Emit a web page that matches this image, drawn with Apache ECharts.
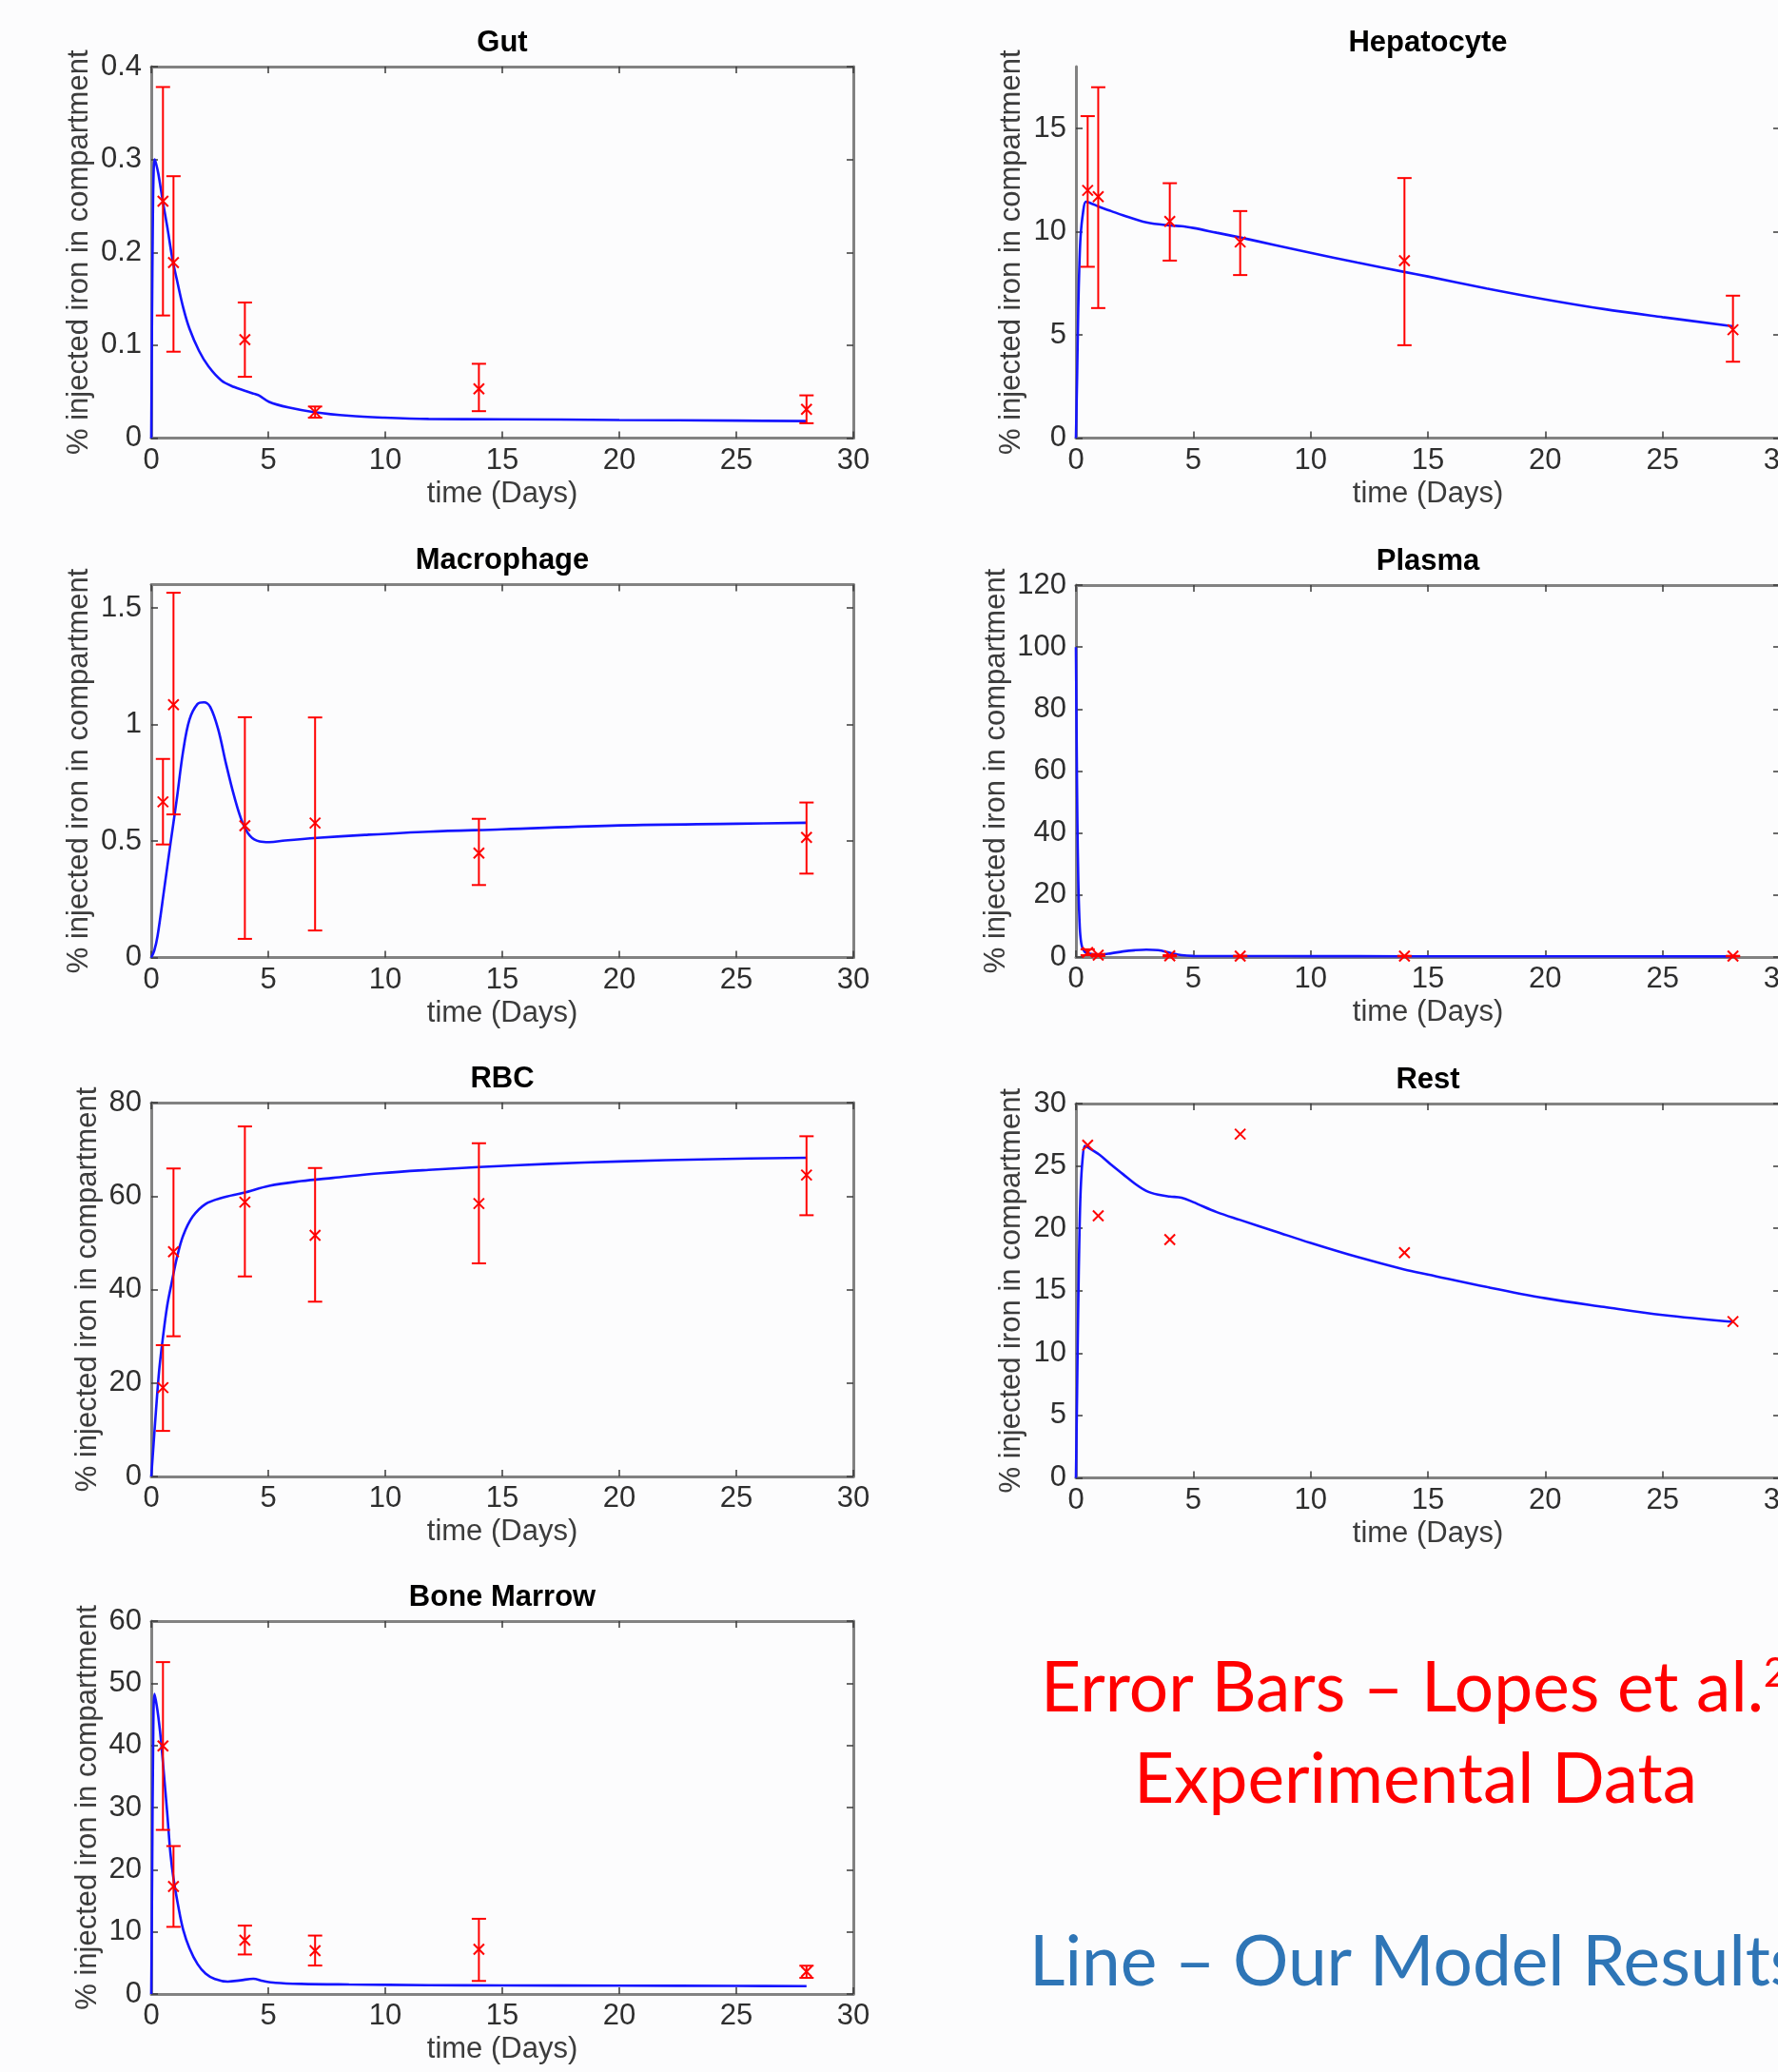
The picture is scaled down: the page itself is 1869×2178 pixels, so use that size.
<!DOCTYPE html>
<html>
<head>
<meta charset="utf-8">
<script src="https://cdn.jsdelivr.net/npm/echarts@6/dist/echarts.min.js"></script>
<style>
html,body{margin:0;padding:0;background:#fcfcfd;}
#c{width:1869px;height:2178px;}
</style>
</head>
<body>
<div id="c"></div>
<script>
// ---------- data ----------
const obsDays = [0.5, 0.95, 4, 7, 14, 28];
const xTicks = [0, 5, 10, 15, 20, 25, 30];

// Gut
const gutYTicks = [0, 0.1, 0.2, 0.3, 0.4];
const gutModelT = [0, 0.03, 0.07, 0.1, 0.14, 0.2, 0.3, 0.48, 0.7, 0.91, 1.09, 1.36, 1.63, 2.04, 2.45, 3.0, 3.54, 4.0, 4.36, 4.6, 5.04, 5.86, 6.95, 8.45, 9.95, 11.85, 15, 20, 25, 28];
const gutModelY = [0, 0.12, 0.24, 0.285, 0.300, 0.296, 0.285, 0.257, 0.225, 0.192, 0.171, 0.141, 0.118, 0.094, 0.077, 0.062, 0.055, 0.051, 0.048, 0.046, 0.039, 0.033, 0.028, 0.024, 0.022, 0.0206, 0.0203, 0.0195, 0.0188, 0.0183];
const gutMean = [0.255, 0.189, 0.106, 0.028, 0.053, 0.031];
const gutLow  = [0.132, 0.093, 0.066, 0.022, 0.029, 0.016];
const gutHigh = [0.378, 0.282, 0.146, 0.034, 0.080, 0.046];

// Hepatocyte
const hepYTicks = [0, 5, 10, 15];
const hepModelT = [0, 0.05, 0.1, 0.15, 0.2, 0.3, 0.42, 0.6, 1, 1.5, 2, 3, 4, 4.5, 5, 6, 7, 8.5, 10, 12, 14, 15, 17.5, 20, 22.5, 25, 28];
const hepModelY = [0, 3.0, 6.3, 8.5, 9.8, 10.9, 11.45, 11.4, 11.2, 11.0, 10.8, 10.45, 10.3, 10.27, 10.18, 9.95, 9.72, 9.35, 8.98, 8.5, 8.05, 7.83, 7.25, 6.72, 6.25, 5.86, 5.42];
const hepMean = [12.0, 11.7, 10.5, 9.5, 8.6, 5.25];
const hepLow  = [8.3, 6.3, 8.6, 7.9, 4.5, 3.7];
const hepHigh = [15.6, 17.0, 12.35, 11.0, 12.6, 6.9];

// Macrophage
const macYTicks = [0, 0.5, 1, 1.5];
const macModelT = [0, 0.13, 0.27, 0.54, 0.82, 1.09, 1.36, 1.63, 1.98, 2.25, 2.52, 2.86, 3.2, 3.54, 3.88, 4.22, 4.63, 5.04, 5.72, 7.08, 9.13, 11.85, 15, 20, 25, 28];
const macModelY = [0, 0.03, 0.093, 0.284, 0.488, 0.679, 0.884, 1.02, 1.088, 1.095, 1.075, 0.979, 0.829, 0.693, 0.584, 0.522, 0.498, 0.495, 0.502, 0.513, 0.526, 0.54, 0.55, 0.567, 0.574, 0.578];
const macMean = [0.668, 1.085, 0.565, 0.577, 0.448, 0.515];
const macLow  = [0.485, 0.614, 0.080, 0.116, 0.311, 0.360];
const macHigh = [0.852, 1.565, 1.031, 1.030, 0.595, 0.665];

// Plasma
const plaYTicks = [0, 20, 40, 60, 80, 100, 120];
const plaModelT = [0, 0.03, 0.06, 0.1, 0.15, 0.2, 0.3, 0.5, 1, 1.5, 2, 2.5, 3, 3.5, 4, 4.5, 5, 7, 10, 14, 20, 28];
const plaModelY = [100, 70, 45, 25, 12, 6, 2.5, 1.2, 0.8, 1.2, 1.8, 2.2, 2.4, 2.2, 1.4, 0.6, 0.35, 0.3, 0.28, 0.25, 0.22, 0.2];
const plaMean = [1.5, 0.6, 0.4, 0.3, 0.3, 0.3];
const plaLow  = [0.6, 0.3, 0.2, 0.2, 0.2, 0.2];
const plaHigh = [2.5, 1.0, 0.6, 0.4, 0.4, 0.4];

// RBC
const rbcYTicks = [0, 20, 40, 60, 80];
const rbcModelT = [0, 0.1, 0.2, 0.34, 0.48, 0.68, 0.89, 1.09, 1.36, 1.77, 2.32, 3.0, 3.95, 5.04, 6.4, 7.77, 9.8, 11.85, 14, 17, 20, 24, 28];
const rbcModelY = [0, 7, 14, 22.8, 29, 36.5, 41.9, 46.7, 51.5, 55.6, 58.3, 59.6, 60.7, 62.2, 63.2, 63.9, 64.9, 65.6, 66.2, 66.9, 67.4, 67.9, 68.2];
const rbcMean = [19.0, 48.1, 58.7, 51.6, 58.4, 64.5];
const rbcLow  = [9.75, 30.0, 42.8, 37.4, 45.6, 55.9];
const rbcHigh = [28.1, 65.9, 74.9, 66.0, 71.3, 72.8];

// Rest
const resYTicks = [0, 5, 10, 15, 20, 25, 30];
const resModelT = [0, 0.05, 0.1, 0.15, 0.2, 0.28, 0.38, 0.5, 1, 1.5, 2, 2.5, 3, 3.5, 4, 4.5, 5, 6, 7, 8.5, 10, 12, 14, 15, 17.5, 20, 22.5, 25, 28];
const resModelY = [0, 7, 14, 19.5, 23, 25.5, 26.6, 26.5, 25.9, 25.1, 24.35, 23.6, 23.0, 22.7, 22.55, 22.45, 22.1, 21.3, 20.67, 19.75, 18.83, 17.7, 16.7, 16.3, 15.3, 14.4, 13.7, 13.05, 12.5];
const resMean = [26.66, 21.0, 19.1, 27.55, 18.05, 12.53];

// Bone Marrow
const bmYTicks = [0, 10, 20, 30, 40, 50, 60];
const bmModelT = [0, 0.04, 0.08, 0.14, 0.27, 0.41, 0.54, 0.68, 0.82, 0.95, 1.16, 1.36, 1.63, 1.98, 2.32, 2.72, 3.27, 3.81, 4.36, 4.77, 5.31, 6.4, 8.45, 11.85, 15, 20, 25, 28];
const bmModelY = [0, 20, 40, 48.3, 45.5, 41, 35.4, 29.2, 22.6, 18.6, 14.0, 10.4, 7.4, 4.8, 3.3, 2.4, 2.0, 2.2, 2.45, 2.1, 1.8, 1.63, 1.53, 1.42, 1.38, 1.34, 1.30, 1.26];
const bmMean = [39.9, 17.3, 8.65, 6.97, 7.2, 3.6];
const bmLow  = [26.4, 10.8, 6.36, 4.58, 2.1, 2.6];
const bmHigh = [53.4, 23.8, 11.0, 9.4, 12.1, 4.55];

const titles = ['Gut', 'Hepatocyte', 'Macrophage', 'Plasma', 'RBC', 'Rest', 'Bone Marrow'];
const xName = 'time (Days)';
const yName = '% injected iron in compartment';

// ---------- layout / styling ----------
const FONT = '"Liberation Sans", Arial, Helvetica, sans-serif';
const FS = 31;
const axisColor = '#828282';
const tickColor = '#3a3a3a';
const labelColor = '#2e2e2e';
const nameColor = '#3c3c3c';
const lineColor = '#1414ff';
const errColor = '#ff0000';

const panels = [
  {t: gutModelT, y: gutModelY, mean: gutMean, low: gutLow, high: gutHigh, yTicks: gutYTicks, yMax: 0.4,
   grid: {left: 159, top: 70, width: 738, height: 390.5}, nameGap: 60, topBorder: true},
  {t: hepModelT, y: hepModelY, mean: hepMean, low: hepLow, high: hepHigh, yTicks: hepYTicks, yMax: 18,
   grid: {left: 1131, top: 70, width: 740, height: 390.5}, nameGap: 52, topBorder: false},
  {t: macModelT, y: macModelY, mean: macMean, low: macLow, high: macHigh, yTicks: macYTicks, yMax: 1.6,
   grid: {left: 159, top: 614.5, width: 738, height: 392}, nameGap: 60, topBorder: true},
  {t: plaModelT, y: plaModelY, mean: plaMean, low: plaLow, high: plaHigh, yTicks: plaYTicks, yMax: 120,
   grid: {left: 1131, top: 615, width: 740, height: 391}, nameGap: 68, topBorder: true},
  {t: rbcModelT, y: rbcModelY, mean: rbcMean, low: rbcLow, high: rbcHigh, yTicks: rbcYTicks, yMax: 80,
   grid: {left: 159, top: 1159, width: 738, height: 393}, nameGap: 51, topBorder: true},
  {t: resModelT, y: resModelY, mean: resMean, low: null, high: null, yTicks: resYTicks, yMax: 30,
   grid: {left: 1131, top: 1160, width: 740, height: 393.5}, nameGap: 52, topBorder: true},
  {t: bmModelT, y: bmModelY, mean: bmMean, low: bmLow, high: bmHigh, yTicks: bmYTicks, yMax: 60,
   grid: {left: 159, top: 1704, width: 738, height: 392}, nameGap: 51, topBorder: true}
];

function segStyle() { return {stroke: errColor, lineWidth: 2, fill: null}; }

function renderErr(params, api) {
  const x = api.value(0), m = api.value(1), lo = api.value(2), hi = api.value(3);
  const c = api.coord([x, m]);
  const s = 5.5;
  const ch = [
    {type: 'line', shape: {x1: c[0] - s, y1: c[1] - s, x2: c[0] + s, y2: c[1] + s}, style: segStyle()},
    {type: 'line', shape: {x1: c[0] - s, y1: c[1] + s, x2: c[0] + s, y2: c[1] - s}, style: segStyle()}
  ];
  if (typeof lo === 'number' && isFinite(lo) && typeof hi === 'number' && isFinite(hi)) {
    const a = api.coord([x, lo]), b = api.coord([x, hi]);
    const w = 7.5;
    ch.push({type: 'line', shape: {x1: a[0], y1: a[1], x2: b[0], y2: b[1]}, style: segStyle()});
    ch.push({type: 'line', shape: {x1: a[0] - w, y1: a[1], x2: a[0] + w, y2: a[1]}, style: segStyle()});
    ch.push({type: 'line', shape: {x1: b[0] - w, y1: b[1], x2: b[0] + w, y2: b[1]}, style: segStyle()});
  }
  return {type: 'group', children: ch};
}

const grids = [], xAxes = [], yAxes = [], series = [], graphics = [];

panels.forEach((p, i) => {
  grids.push(Object.assign({outerBoundsMode: 'none', containLabel: false, show: false}, p.grid));
  const yInt = p.yTicks[1] - p.yTicks[0];
  const lineSt = {color: axisColor, width: 3};
  const tickSt = {color: tickColor, width: 1.5};
  xAxes.push({
    gridIndex: i, type: 'value', min: 0, max: 30, interval: 5, position: 'bottom',
    axisLine: {show: true, onZero: false, lineStyle: lineSt},
    axisTick: {show: true, inside: true, length: 7, lineStyle: tickSt, customValues: xTicks},
    axisLabel: {show: true, margin: 8, fontSize: FS, color: labelColor, fontFamily: FONT, customValues: xTicks},
    splitLine: {show: false},
    name: xName, nameLocation: 'middle', nameGap: 43,
    nameTextStyle: {fontSize: FS, color: nameColor, fontFamily: FONT}
  });
  xAxes.push({
    gridIndex: i, type: 'value', min: 0, max: 30, interval: 5, position: 'top',
    axisLine: {show: p.topBorder, onZero: false, lineStyle: lineSt},
    axisTick: {show: p.topBorder, inside: true, length: 7, lineStyle: tickSt, customValues: xTicks},
    axisLabel: {show: false}, splitLine: {show: false}
  });
  yAxes.push({
    gridIndex: i, type: 'value', min: 0, max: p.yMax, interval: yInt, position: 'left',
    axisLine: {show: true, onZero: false, lineStyle: lineSt},
    axisTick: {show: true, inside: true, length: 7, lineStyle: tickSt, customValues: p.yTicks},
    axisLabel: {show: true, margin: 10, fontSize: FS, color: labelColor, fontFamily: FONT, customValues: p.yTicks},
    splitLine: {show: false},
    name: yName, nameLocation: 'middle', nameRotate: 90, nameGap: p.nameGap,
    nameTextStyle: {fontSize: FS, color: nameColor, fontFamily: FONT}
  });
  yAxes.push({
    gridIndex: i, type: 'value', min: 0, max: p.yMax, interval: yInt, position: 'right',
    axisLine: {show: true, onZero: false, lineStyle: lineSt},
    axisTick: {show: true, inside: true, length: 7, lineStyle: tickSt, customValues: p.yTicks},
    axisLabel: {show: false}, splitLine: {show: false}
  });

  series.push({
    type: 'line', xAxisIndex: 2 * i, yAxisIndex: 2 * i,
    data: p.t.map((t, k) => [t, p.y[k]]),
    showSymbol: false, smooth: 0.35,
    lineStyle: {color: lineColor, width: 2.6}, z: 3, silent: true
  });
  series.push({
    type: 'custom', xAxisIndex: 2 * i, yAxisIndex: 2 * i,
    data: obsDays.map((d, k) => p.low ? [d, p.mean[k], p.low[k], p.high[k]] : [d, p.mean[k]]),
    encode: {x: 0, y: 1},
    renderItem: renderErr, z: 4, silent: true, clip: false
  });

  const cx = p.grid.left + p.grid.width / 2;
  graphics.push({
    type: 'text', x: cx, y: p.grid.top - 25,
    style: {text: titles[i], fill: '#000', font: 'bold ' + FS + 'px ' + FONT, textAlign: 'center', textVerticalAlign: 'middle'}
  });
});

graphics.push({
  type: 'text', x: 1094, y: 1775,
  style: {
    text: '{a|Error Bars – Lopes et al.}{s|2}',
    textAlign: 'left', textVerticalAlign: 'middle',
    rich: {
      a: {fontSize: 73, fontFamily: 'Lato, "Open Sans", sans-serif', fill: '#ff0000', color: '#ff0000'},
      s: {fontSize: 42, fontFamily: 'Lato, "Open Sans", sans-serif', fill: '#ff0000', color: '#ff0000', verticalAlign: 'top'}
    }
  }
});
graphics.push({
  type: 'text', x: 1488, y: 1871,
  style: {text: 'Experimental Data', fill: '#ff0000', font: '73px Lato, "Open Sans", sans-serif', textAlign: 'center', textVerticalAlign: 'middle'}
});
graphics.push({
  type: 'text', x: 1082, y: 2063,
  style: {text: 'Line – Our Model Results', fill: '#2e75b6', font: '73px Lato, "Open Sans", sans-serif', textAlign: 'left', textVerticalAlign: 'middle'}
});

const chart = echarts.init(document.getElementById('c'), null, {renderer: 'canvas', width: 1869, height: 2178});
chart.setOption({
  backgroundColor: '#fcfcfd',
  animation: false,
  grid: grids,
  xAxis: xAxes,
  yAxis: yAxes,
  series: series,
  graphic: graphics
});
</script>
</body>
</html>
